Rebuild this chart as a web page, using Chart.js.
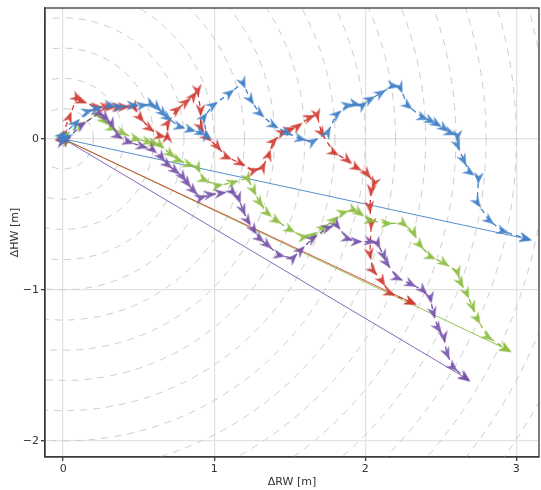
<!DOCTYPE html>
<html>
<head>
<meta charset="utf-8">
<title>Trajectories</title>
<script src="https://cdn.jsdelivr.net/npm/chart.js@4/dist/chart.umd.min.js"></script>
<style>
  html, body { margin: 0; padding: 0; background: #fff; }
  #wrap { width: 541px; height: 490px; }
</style>
</head>
<body>
<div id="wrap"><canvas id="trajChart" width="541" height="490"></canvas></div>
<script>
// tick labels
const xTicks = [0, 1, 2, 3];
const yTicks = [0, -1, -2];
// radii of the dashed reference rings around the origin
const ringRadii = [0.2, 0.4, 0.6, 0.8, 1.0, 1.2, 1.4, 1.6, 1.8, 2.0, 2.2, 2.4, 2.6, 2.8, 3.0, 3.2, 3.4, 3.6, 3.8];

// blue path
const blueX = [0, 0.02, -0.01, 0.08, 0.16, 0.22, 0.31, 0.37, 0.46, 0.52, 0.58, 0.62, 0.66, 0.69, 0.77, 0.84, 0.91, 0.95,
  0.93, 0.99, 1.10, 1.19, 1.24, 1.30, 1.39, 1.48, 1.57, 1.65, 1.75, 1.81, 1.88, 1.93, 1.98, 2.03, 2.10, 2.18, 2.23,
  2.28, 2.38, 2.43, 2.47, 2.52, 2.56, 2.61, 2.61, 2.65, 2.69, 2.75, 2.74, 2.82, 2.91, 3.06];
const blueY = [0, 0.01, 0.02, 0.10, 0.18, 0.20, 0.22, 0.21, 0.22, 0.22, 0.23, 0.21, 0.17, 0.14, 0.08, 0.06, 0.04, 0.02,
  0.14, 0.22, 0.30, 0.37, 0.26, 0.17, 0.09, 0.04, 0.00, -0.02, 0.04, 0.16, 0.22, 0.23, 0.22, 0.26, 0.30, 0.35, 0.34,
  0.22, 0.14, 0.12, 0.10, 0.07, 0.04, 0.02, -0.04, -0.14, -0.22, -0.26, -0.42, -0.54, -0.61, -0.66];

// red path
const redX = [0, 0.01, -0.01, 0.04, 0.09, 0.12, 0.22, 0.28, 0.31, 0.36, 0.40, 0.47, 0.51, 0.57, 0.64, 0.69, 0.69, 0.75,
  0.81, 0.86, 0.89, 0.91, 0.91, 0.95, 1.02, 1.08, 1.17, 1.26, 1.32, 1.36, 1.39, 1.45, 1.50, 1.55, 1.63, 1.68, 1.71,
  1.79, 1.88, 1.94, 2.01, 2.06, 2.04, 2.03, 2.04, 2.03, 2.05, 2.11, 2.16, 2.30];
const redY = [0, 0.02, 0.01, 0.14, 0.27, 0.25, 0.21, 0.21, 0.21, 0.21, 0.21, 0.21, 0.14, 0.07, 0.02, 0.01, 0.10, 0.19,
  0.24, 0.28, 0.32, 0.19, 0.08, 0.01, -0.05, -0.12, -0.16, -0.21, -0.19, -0.11, -0.02, 0.04, 0.06, 0.08, 0.14, 0.16, 0.04,
  -0.09, -0.14, -0.19, -0.23, -0.29, -0.34, -0.45, -0.56, -0.76, -0.87, -0.94, -1.02, -1.08];

// green path
const greenX = [0, 0.02, 0.01, 0.11, 0.23, 0.27, 0.32, 0.39, 0.48, 0.56, 0.60, 0.64, 0.71, 0.76, 0.83, 0.89, 0.93, 1.02,
  1.12, 1.22, 1.26, 1.30, 1.35, 1.41, 1.50, 1.59, 1.65, 1.72, 1.79, 1.85, 1.92, 1.96, 2.03, 2.14, 2.25, 2.32, 2.36,
  2.43, 2.52, 2.61, 2.63, 2.67, 2.71, 2.74, 2.81, 2.93];
const greenY = [0, -0.01, 0.02, 0.09, 0.16, 0.12, 0.07, 0.04, 0.00, -0.02, -0.03, -0.04, -0.10, -0.14, -0.17, -0.19, -0.27, -0.31,
  -0.29, -0.26, -0.34, -0.42, -0.49, -0.54, -0.60, -0.65, -0.64, -0.59, -0.54, -0.49, -0.47, -0.49, -0.54, -0.56, -0.56, -0.62, -0.70,
  -0.78, -0.82, -0.88, -0.95, -1.02, -1.11, -1.19, -1.31, -1.39];

// purple path
const purpleX = [0, -0.01, 0.02, 0.12, 0.24, 0.28, 0.32, 0.36, 0.43, 0.52, 0.59, 0.65, 0.69, 0.74, 0.79, 0.82, 0.86, 0.91,
  0.97, 1.04, 1.12, 1.16, 1.19, 1.22, 1.26, 1.30, 1.35, 1.43, 1.52, 1.57, 1.65, 1.75, 1.81, 1.88, 1.94, 2.03, 2.08,
  2.12, 2.14, 2.21, 2.30, 2.38, 2.43, 2.45, 2.48, 2.52, 2.54, 2.58, 2.66];
const purpleY = [0, -0.02, -0.01, 0.09, 0.17, 0.14, 0.10, 0.02, -0.02, -0.05, -0.07, -0.12, -0.17, -0.21, -0.25, -0.29, -0.34, -0.39,
  -0.37, -0.36, -0.35, -0.39, -0.47, -0.54, -0.60, -0.66, -0.70, -0.77, -0.79, -0.74, -0.66, -0.59, -0.57, -0.66, -0.68, -0.68, -0.69,
  -0.77, -0.82, -0.92, -0.96, -1.00, -1.05, -1.15, -1.25, -1.31, -1.42, -1.51, -1.58];

const COLORS = {
  blue: '#3f7fc6',
  red: '#cf3b33',
  green: '#8cbd3f',
  purple: '#7552a8'
};

/**
 * Build an arrowhead marker image pointing to the right
 */
function makeArrow(color) {
  const c = document.createElement('canvas');
  c.width = 15;
  c.height = 15;
  const g = c.getContext('2d');
  g.translate(7.5, 7.5);
  g.fillStyle = color;
  g.globalAlpha = 0.9;
  g.beginPath();
  g.moveTo(6.5, 0);
  g.lineTo(-6, -5);
  g.lineTo(-2, 0);
  g.lineTo(-6, 5);
  g.closePath();
  g.fill();
  return c;
}

/**
 * Turn x/y arrays into scatter points
 */
function toPoints(xs, ys) {
  return xs.map((x, i) => ({ x: x, y: ys[i] }));
}

/**
 * Rotation (degrees, clockwise on screen) of the arrow at a point
 */
function arrowRotation(ctx) {
  const data = ctx.dataset.data;
  const i = ctx.dataIndex;
  let a = data[i], b = data[i + 1];
  if (!b) { a = data[i - 1]; b = data[i]; }
  if (!a || !b) return 0;
  return Math.atan2(-(b.y - a.y), b.x - a.x) * 180 / Math.PI;
}

function pathDataset(xs, ys, color) {
  return {
    data: toPoints(xs, ys),
    showLine: true,
    borderColor: color,
    borderWidth: 1.3,
    borderDash: [5, 4],
    pointStyle: makeArrow(color),
    pointRadius: 5,
    rotation: arrowRotation,
    order: 1
  };
}

function chordDataset(xs, ys, color) {
  const last = xs.length - 1;
  return {
    data: [{ x: xs[0], y: ys[0] }, { x: xs[last], y: ys[last] }],
    showLine: true,
    borderColor: color + 'e0',
    borderWidth: 1,
    pointStyle: makeArrow(color),
    pointRadius: ctx => ctx.dataIndex === 1 ? 5 : 0,
    rotation: arrowRotation,
    order: 2
  };
}

// dashed rings and outer frame
const ringsPlugin = {
  id: 'rings',
  beforeDatasetsDraw(chart) {
    const { ctx, chartArea, scales } = chart;
    const cx = scales.x.getPixelForValue(0);
    const cy = scales.y.getPixelForValue(0);
    const unit = scales.x.getPixelForValue(1) - cx;
    ctx.save();
    ctx.beginPath();
    ctx.rect(chartArea.left, chartArea.top, chartArea.right - chartArea.left, chartArea.bottom - chartArea.top);
    ctx.clip();
    ctx.strokeStyle = '#cdcdcd';
    ctx.lineWidth = 1;
    ctx.setLineDash([7, 6]);
    ringRadii.forEach(r => {
      ctx.beginPath();
      ctx.arc(cx, cy, r * unit, 0, Math.PI * 2);
      ctx.stroke();
    });
    ctx.restore();
  },
  afterDraw(chart) {
    const { ctx, chartArea } = chart;
    ctx.save();
    ctx.strokeStyle = '#3a3a3a';
    ctx.lineWidth = 1.3;
    ctx.strokeRect(chartArea.left, chartArea.top, chartArea.right - chartArea.left, chartArea.bottom - chartArea.top);
    ctx.restore();
  }
};

function minusLabel(v) {
  return v < 0 ? '\u2212' + Math.abs(v) : String(v);
}

new Chart(document.getElementById('trajChart'), {
  type: 'scatter',
  data: {
    datasets: [
      chordDataset(blueX, blueY, COLORS.blue),
      chordDataset(redX, redY, COLORS.red),
      chordDataset(greenX, greenY, COLORS.green),
      chordDataset(purpleX, purpleY, COLORS.purple),
      pathDataset(blueX, blueY, COLORS.blue),
      pathDataset(purpleX, purpleY, COLORS.purple),
      pathDataset(greenX, greenY, COLORS.green),
      pathDataset(redX, redY, COLORS.red)
    ]
  },
  options: {
    responsive: false,
    animation: false,
    devicePixelRatio: 1,
    layout: { autoPadding: false, padding: { top: 8, right: 2, left: 0, bottom: 0 } },
    plugins: {
      legend: { display: false },
      tooltip: { enabled: false }
    },
    scales: {
      x: {
        type: 'linear',
        min: -0.12,
        max: 3.15,
        afterFit: s => { s.height = 33; s.paddingLeft = 0; s.paddingRight = 0; },
        afterBuildTicks: s => { s.ticks = xTicks.map(v => ({ value: v })); },
        grid: { color: '#e3e3e3', lineWidth: 1.3, tickLength: 4, tickColor: '#3a3a3a' },
        border: { color: '#3a3a3a', width: 1.3 },
        ticks: {
          color: '#333',
          font: { family: 'DejaVu Sans', size: 11 },
          padding: 2,
          maxRotation: 0,
          callback: minusLabel
        },
        title: {
          display: true,
          text: '\u0394RW [m]',
          color: '#333',
          font: { family: 'DejaVu Sans', size: 11 },
          padding: { top: 0, bottom: 1 }
        }
      },
      y: {
        type: 'linear',
        min: -2.105,
        max: 0.865,
        afterFit: s => { s.width = 45; s.paddingTop = 0; s.paddingBottom = 0; },
        afterBuildTicks: s => { s.ticks = yTicks.map(v => ({ value: v })); },
        grid: { color: '#e3e3e3', lineWidth: 1.3, tickLength: 4, tickColor: '#3a3a3a' },
        border: { color: '#3a3a3a', width: 1.3 },
        ticks: {
          color: '#333',
          font: { family: 'DejaVu Sans', size: 11 },
          padding: 2,
          callback: minusLabel
        },
        title: {
          display: true,
          text: '\u0394HW [m]',
          color: '#333',
          font: { family: 'DejaVu Sans', size: 11 },
          padding: { top: 9, bottom: 0 }
        }
      }
    }
  },
  plugins: [ringsPlugin]
});
</script>
</body>
</html>
